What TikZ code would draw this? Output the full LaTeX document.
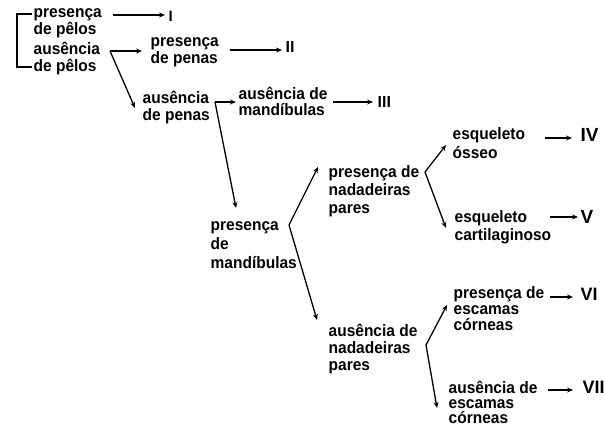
\documentclass[tikz,border=0pt]{standalone}
\usepackage{fontspec}
\newfontfamily\keyfont[FakeStretch=0.94]{Liberation Sans}
\newfontfamily\groupfont{Liberation Sans}
\usepackage{tikz}
\usetikzlibrary{arrows.meta, calc}

\begin{document}
\begin{tikzpicture}[>={Stealth[length=6pt, width=5pt]}, x=1pt, y=-1pt, line width=1.3pt,
    txt/.style={anchor=base west, inner sep=0pt, align=left,
        font=\keyfont\bfseries\fontsize{16.5}{17}\selectfont},
    num/.style={anchor=base west, inner sep=0pt,
        font=\groupfont\bfseries\fontsize{#1}{#1}\selectfont},
    num/.default=16]
    \useasboundingbox (0,0) rectangle (605,425);
    % Bracket
    \draw[line cap=rect] (31,14) -- (17,14) -- (17,67) -- (31,67);
    % Keys (placed at the baseline of their last line)
    \node[txt] (p1) at (33,35) {presença\\de pêlos};
    \node[txt] (a1) at (33,72) {ausência\\de pêlos};
    \node[txt] (p2) at (150,64) {presença\\de penas};
    \node[txt] (a2) at (142,121) {ausência\\de penas};
    \node[txt, font=\keyfont\bfseries\fontsize{16.5}{16}\selectfont] (a3) at (238,116) {ausência de\\mandíbulas};
    \node[txt, font=\keyfont\bfseries\fontsize{16.5}{19}\selectfont] (p3) at (210,268) {presença\\de\\mandíbulas};
    \node[txt, font=\keyfont\bfseries\fontsize{16.5}{18}\selectfont] (p4) at (328,213) {presença de\\nadadeiras\\pares};
    \node[txt] (a4) at (328,370) {ausência de\\nadadeiras\\pares};
    \node[txt, font=\keyfont\bfseries\fontsize{16.5}{18}\selectfont] (e1) at (452,158) {esqueleto\\ósseo};
    \node[txt, font=\keyfont\bfseries\fontsize{16.5}{18}\selectfont] (e2) at (454,240) {esqueleto\\cartilaginoso};
    \node[txt, font=\keyfont\bfseries\fontsize{16.5}{16}\selectfont] (p5) at (453,330) {presença de\\escamas\\córneas};
    \node[txt, font=\keyfont\bfseries\fontsize{16.5}{15}\selectfont] (a5) at (448,423) {ausência de\\escamas\\córneas};
    % Groups
    \node[num=15] (n1) at (168,22) {I};
    \node[num] (n2) at (285,53) {II};
    \node[num] (n3) at (377,108) {III};
    \node[num=19] (n4) at (580,142) {IV};
    \node[num=19] (n5) at (580,223) {V};
    \node[num=18] (n6) at (580,300) {VI};
    \node[num=18] (n7) at (582,393) {VII};
    % Arrows to groups
    \coordinate (s1) at (113,15);
    \coordinate (s2) at (230,50);
    \coordinate (s3) at (333,102);
    \coordinate (s4) at (545,138);
    \coordinate (s5) at (550,217);
    \coordinate (s6) at (550,297);
    \coordinate (s7) at (548,390);
    \draw[->, shorten >=3pt] (s1) -- (s1 -| n1.west);
    \draw[->, shorten >=3pt] (s2) -- (s2 -| n2.west);
    \draw[->, shorten >=4pt] (s3) -- (s3 -| n3.west);
    \draw[->, shorten >=8pt] (s4) -- (s4 -| n4.west);
    \draw[->, shorten >=2pt] (s5) -- (s5 -| n5.west);
    \draw[->, shorten >=7pt] (s6) -- (s6 -| n6.west);
    \draw[->, shorten >=9pt] (s7) -- (s7 -| n7.west);
    % Branches
    \coordinate (c1) at (110,51);
    \coordinate (c2) at (215,102);
    \coordinate (c3) at (289,225);
    \coordinate (c4) at (425,172);
    \coordinate (c5) at (426,345);
    \coordinate (t2) at (135,108);
    \coordinate (t3) at (236,208);
    \coordinate (t4u) at (318,167);
    \coordinate (t4d) at (317,320);
    \coordinate (t5u) at (446,145);
    \coordinate (t5d) at (446,228);
    \coordinate (t6u) at (447,305);
    \coordinate (t6d) at (437,408);
    \draw[->, shorten >=8pt] (c1) -- (c1 -| p2.west);
    \draw[->] (c1) -- (t2);
    \draw[->, shorten >=2pt] (c2) -- (c2 -| a3.west);
    \draw[->] (c2) -- (t3);
    \draw[->] (c3) -- (t4u);
    \draw[->] (c3) -- (t4d);
    \draw[->] (c4) -- (t5u);
    \draw[->] (c4) -- (t5d);
    \draw[->] (c5) -- (t6u);
    \draw[->] (c5) -- (t6d);
\end{tikzpicture}
\end{document}
